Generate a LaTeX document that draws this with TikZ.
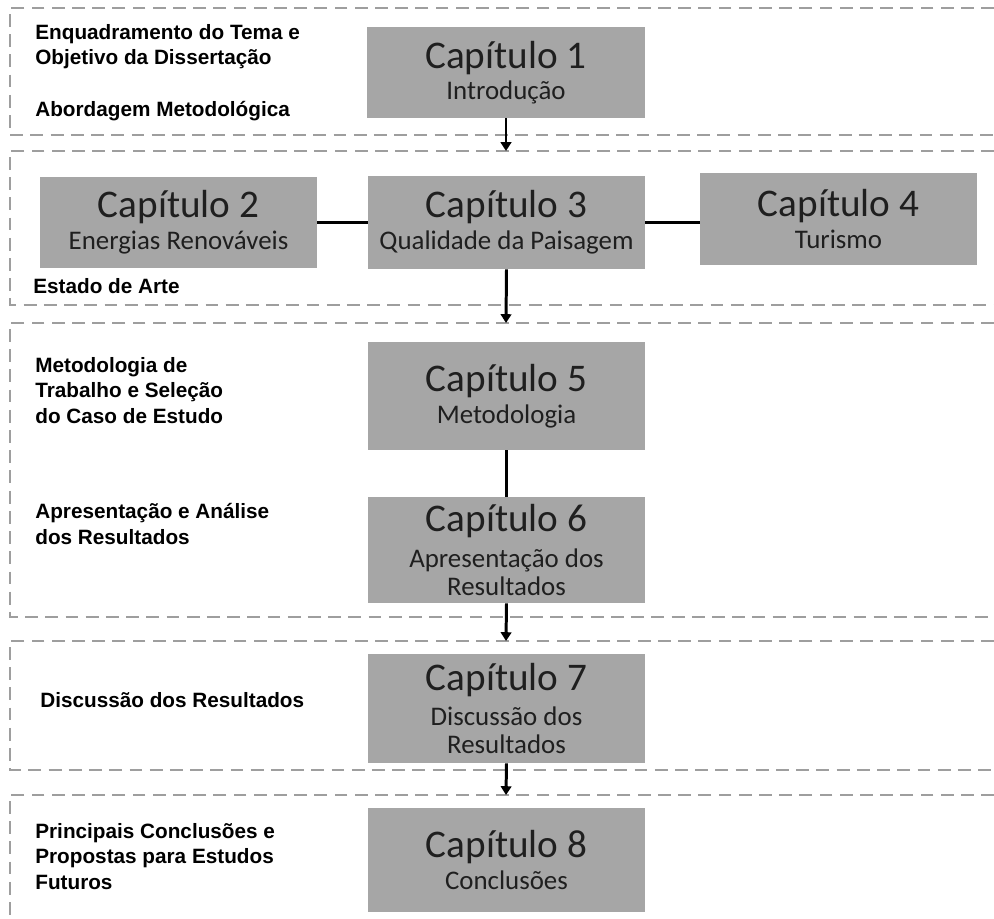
\documentclass[tikz,border=0pt]{standalone}
\usepackage{fontspec}
\setmainfont{Liberation Sans}
\newfontfamily\capfont{Carlito}
\usetikzlibrary{arrows.meta}

\definecolor{boxgray}{RGB}{166,166,166}
\definecolor{dashgray}{RGB}{158,158,158}

\tikzset{
  chap/.style={fill=boxgray, inner sep=0pt, align=center, text=black!88,
    font=\capfont\fontsize{15.3}{16}\selectfont},
  panel/.style={draw=dashgray, line width=1.4pt, dash pattern=on 7.3pt off 4.2pt},
  lbl/.style={anchor=base west, align=left, inner sep=0pt,
    font=\bfseries\fontsize{11.8}{14.5}\selectfont},
  flow/.style={line width=1.7pt, -{Triangle[length=5pt, width=6pt]}},
  link/.style={line width=1.7pt}
}

\newcommand{\ctitle}[1]{{\fontsize{22.3}{26}\selectfont #1}}

\begin{document}
\begin{tikzpicture}[x=0.02cm, y=-0.02cm]
\useasboundingbox (0,0) rectangle (994,919);

%Panels (open to the right)
\draw[panel] (994,8) -| (10,135) -- (994,135);
\draw[panel] (994,151) -| (10,305) -- (994,305);
\draw[panel] (994,323) -| (10,617) -- (994,617);
\draw[panel] (994,641) -| (10,770) -- (994,770);
\draw[panel] (994,795) -| (10,919);

\coordinate (p2top) at (506,151);
\coordinate (p3top) at (506,323);
\coordinate (p4top) at (506,641);
\coordinate (p5top) at (506,795);

%Chapter boxes
\node[chap, minimum width=5.56cm, minimum height=1.82cm] (c1) at (506,72.5)
  {\ctitle{Capítulo 1}\\[2pt]Introdução};
\node[chap, minimum width=5.54cm, minimum height=1.82cm] (c2) at (178.5,222.5)
  {\ctitle{Capítulo 2}\\[2pt]Energias Renováveis};
\node[chap, minimum width=5.54cm, minimum height=1.86cm] (c3) at (506.5,222.5)
  {\ctitle{Capítulo 3}\\[2pt]Qualidade da Paisagem};
\node[chap, minimum width=5.54cm, minimum height=1.84cm] (c4) at (838.5,219)
  {\ctitle{Capítulo 4}\\[2pt]Turismo};
\node[chap, minimum width=5.54cm, minimum height=2.16cm] (c5) at (506.5,396)
  {\ctitle{Capítulo 5}\\[2pt]Metodologia};
\node[chap, minimum width=5.54cm, minimum height=2.12cm] (c6) at (506.5,550)
  {\ctitle{Capítulo 6}\\[4pt]Apresentação dos\\Resultados};
\node[chap, minimum width=5.54cm, minimum height=2.18cm] (c7) at (506.5,708.5)
  {\ctitle{Capítulo 7}\\[4pt]Discussão dos\\Resultados};
\node[chap, minimum width=5.54cm, minimum height=2.1cm] (c8) at (506.5,860)
  {\ctitle{Capítulo 8}\\[2pt]Conclusões};

%Side labels (base = last line)
\node[lbl] (l1) at (35,65) {Enquadramento do Tema e\\Objetivo da Dissertação};
\node[lbl] (l2) at (35,116) {Abordagem Metodológica};
\node[lbl] (l3) at (33,293) {Estado de Arte};
\node[lbl] (l5) at (35,423) {Metodologia de\\Trabalho e Seleção\\do Caso de Estudo};
\node[lbl] (l6) at (35,544) {Apresentação e Análise\\dos Resultados};
\node[lbl] (l7) at (40,707) {Discussão dos Resultados};
\node[lbl] (l8) at (35,889) {Principais Conclusões e\\Propostas para Estudos\\Futuros};

%Connectors
\draw[flow] (c1.south) -- (p2top);
\draw[flow] (c3.south) -- (p3top);
\draw[flow] (c6.south) -- (p4top);
\draw[flow] (c7.south) -- (p5top);
\draw[link] (c2.east) -- (c3.west);
\draw[link] (c3.east) -- (c3.east -| c4.west);
\draw[link] (c5.south) -- (c6.north);
\end{tikzpicture}
\end{document}
